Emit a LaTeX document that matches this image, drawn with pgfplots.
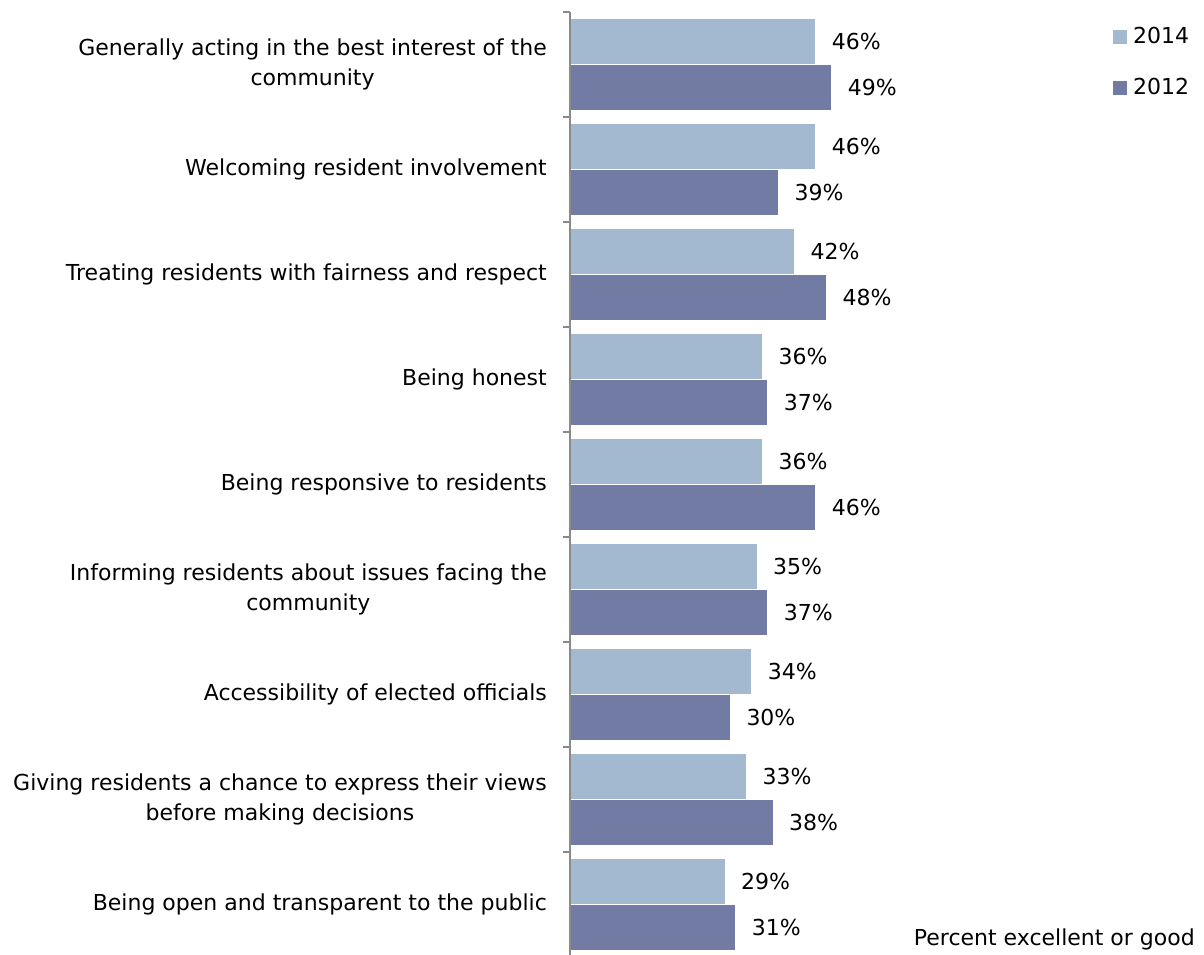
\documentclass[border=0pt]{standalone}
\usepackage{fontspec}
\setmainfont{DejaVu Sans}
\usepackage{pgfplots}
\pgfplotsset{compat=1.18}
\definecolor{cA}{HTML}{A3B9CF}
\definecolor{cB}{HTML}{717BA3}
\definecolor{axgray}{HTML}{8A8A8A}
\begin{document}
\fontsize{22}{30}\selectfont
\begin{tikzpicture}
\useasboundingbox (0,0) rectangle (1204pt,954pt);
\begin{axis}[
  at={(570pt,-3pt)}, anchor=south west,
  scale only axis, width=534pt, height=945pt,
  xbar, xmin=0, xmax=100,
  ymin=-0.5, ymax=8.5,
  bar width=46pt,
  axis on top,
  axis x line=none,
  axis y line=left,
  axis line style={-, draw=axgray, line width=1.8pt},
  ytick={0,...,8},
  major tick length=0pt,
  minor ytick={-0.5,0.5,...,8.5},
  minor tick length=7pt,
  tick align=outside,
  ytick pos=left,
  minor tick style={draw=axgray, line width=1.6pt},
  yticklabels={
    Being open and transparent to the public,
    {Giving residents a chance to express their views\\before making decisions},
    Accessibility of elected officials,
    {Informing residents about issues facing the\\community},
    Being responsive to residents,
    Being honest,
    Treating residents with fairness and respect,
    Welcoming resident involvement,
    {Generally acting in the best interest of the\\community}},
  yticklabel style={align=center, anchor=east, inner sep=0pt, xshift=-23pt, font=\fontsize{22}{30}\selectfont},
  /pgf/number format/assume math mode=true,
  nodes near coords={\pgfmathprintnumber{\pgfplotspointmeta}\%},
  every node near coord/.append style={anchor=west, inner sep=0pt, xshift=16pt, font=\fontsize{22}{30}\selectfont, text=black},
  legend style={at={(rel axis cs:1,1)}, anchor=north west, xshift=9pt, yshift=-15pt,
    draw=none, fill=none, inner sep=0pt, row sep=31pt,
    font=\fontsize{22}{30}\selectfont,
    nodes={inner sep=0pt, anchor=west}},
  legend cell align=left,
  legend image code/.code={\fill[#1, draw=none] (0pt,-7pt) rectangle (14pt,7pt);},
]
\addplot[fill=cA, draw=white, line width=0.6pt, bar shift=23pt] coordinates {
  (29,0) (33,1) (34,2) (35,3) (36,4) (36,5) (42,6) (46,7) (46,8)};
\addlegendentry{\hspace{6pt}2014}
\addplot[fill=cB, draw=white, line width=0.6pt, bar shift=-23pt] coordinates {
  (31,0) (38,1) (30,2) (37,3) (46,4) (37,5) (48,6) (39,7) (49,8)};
\addlegendentry{\hspace{6pt}2012}
\end{axis}
\node[anchor=base east, inner sep=0pt] at (1195pt,9pt) {Percent excellent or good};
\end{tikzpicture}
\end{document}
